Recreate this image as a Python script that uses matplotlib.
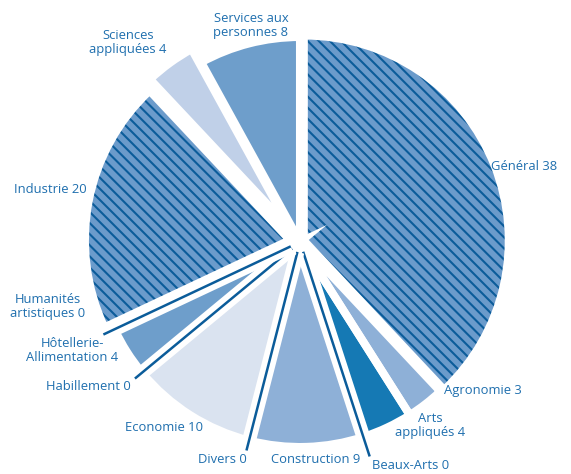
import numpy as np
import matplotlib
matplotlib.use("Agg")
import matplotlib.pyplot as plt
from matplotlib.patches import Wedge
import matplotlib.patheffects as pe

plt.rcParams['font.family'] = ['Open Sans', 'DejaVu Sans']
plt.rcParams['hatch.linewidth'] = 1.5

# Data: number of options per field (sum = 100), clockwise from 12 o'clock
categories = ["Général", "Agronomie", "Arts\nappliqués", "Beaux-Arts", "Construction",
              "Divers", "Economie", "Habillement", "Hôtellerie-\nAllimentation",
              "Humanités\nartistiques", "Industrie", "Sciences\nappliquées",
              "Services aux\npersonnes"]
values = [38, 3, 4, 0, 9, 0, 10, 0, 4, 0, 20, 4, 8]

# Styling
DARK = "#0b5c9a"
TEXT = "#1f6fae"
colors = ["#6b9bcb", "#8eb0d7", "#1579b4", DARK, "#8eb0d7", DARK, "#dae3f0", DARK,
          "#6e9ecb", DARK, "#6b9bcb", "#c0d0e8", "#6e9ecb"]
hatched = ["Général", "Industrie"]
explode_map = {"Général": 0.02, "Industrie": 0.05, "Sciences\nappliquées": 0.08}

# Label anchor points (pie radius units) and leader-line lengths for zero slices
label_pos = {
    "Général": (1.093, 0.366),
    "Agronomie": (0.893, -0.722),
    "Arts\nappliqués": (0.634, -0.893),
    "Beaux-Arts": (0.541, -1.088),
    "Construction": (0.078, -1.059),
    "Divers": (-0.380, -1.063),
    "Economie": (-0.663, -0.907),
    "Habillement": (-1.034, -0.707),
    "Hôtellerie-\nAllimentation": (-1.112, -0.527),
    "Humanités\nartistiques": (-1.229, -0.317),
    "Industrie": (-1.22, 0.254),
    "Sciences\nappliquées": (-0.839, 0.971),
    "Services aux\npersonnes": (-0.239, 1.054),
}
zero_line_len = {"Beaux-Arts": 1.10, "Divers": 1.05, "Habillement": 1.045,
                 "Humanités\nartistiques": 1.06}

fig = plt.figure(figsize=(5.71, 4.74), dpi=100)
ax = fig.add_axes([0, 0, 1, 1])

nz = [i for i, v in enumerate(values) if v > 0]
wedges, _ = ax.pie([values[i] for i in nz], startangle=90, counterclock=False, radius=1,
                   colors=[colors[i] for i in nz],
                   explode=[explode_map.get(categories[i], 0) for i in nz],
                   wedgeprops=dict(linewidth=0), center=(0, 0))
ax.set_xlim(-1.4634, 1.3220)
ax.set_ylim(-1.1317, 1.1805)
ax.set_aspect('equal')
ax.axis('off')

GAP_LW = 5.8
for w, i in zip(wedges, nz):
    if categories[i] in hatched:
        w.set_hatch('\\\\\\')
        w.set_edgecolor(DARK)
        w.set_linewidth(0)
    outline = Wedge(w.center, w.r, w.theta1, w.theta2, facecolor='none',
                    edgecolor='white', linewidth=GAP_LW, zorder=3)
    ax.add_patch(outline)

# Zero-valued fields drawn as radial lines at their position in the sequence
total = sum(values)
cum = np.cumsum([0] + values)
for i, v in enumerate(values):
    if v == 0:
        ang = np.deg2rad(90 - 360 * cum[i] / total)
        r1 = zero_line_len[categories[i]]
        ax.plot([0.05 * np.cos(ang), r1 * np.cos(ang)],
                [0.05 * np.sin(ang), r1 * np.sin(ang)],
                color=DARK, lw=1.8, solid_capstyle='butt', zorder=4,
                path_effects=[pe.Stroke(linewidth=10, foreground='white'), pe.Normal()])

for i, cat in enumerate(categories):
    x, y = label_pos[cat]
    ax.text(x, y, cat + " " + str(values[i]), ha='center', va='center', color=TEXT,
            fontsize=9.4, linespacing=1.1, zorder=5)

fig.savefig("out.png", dpi=100)
